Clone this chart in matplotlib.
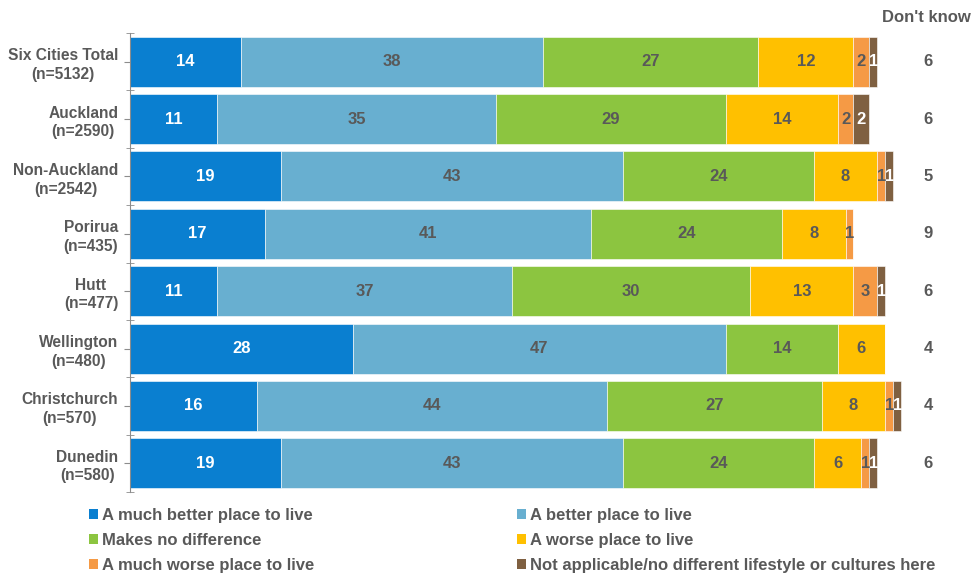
import matplotlib
matplotlib.use("Agg")
import matplotlib.pyplot as plt
import numpy as np
from matplotlib.patches import Patch

plt.rcParams['font.family'] = ['Liberation Sans', 'DejaVu Sans']

categories = ["Six Cities Total\n(n=5132)", "Auckland\n(n=2590)", "Non-Auckland\n(n=2542)",
              "Porirua\n(n=435)", "Hutt\n(n=477)", "Wellington\n(n=480)",
              "Christchurch\n(n=570)", "Dunedin\n(n=580)"]
series_names = ["A much better place to live", "A better place to live", "Makes no difference",
                "A worse place to live", "A much worse place to live",
                "Not applicable/no different lifestyle or cultures here"]
much_better = [14, 11, 19, 17, 11, 28, 16, 19]
better = [38, 35, 43, 41, 37, 47, 44, 43]
no_diff = [27, 29, 24, 24, 30, 14, 27, 24]
worse = [12, 14, 8, 8, 13, 6, 8, 6]
much_worse = [2, 2, 1, 1, 3, 0, 1, 1]
not_applicable = [1, 2, 1, 0, 1, 0, 1, 1]
dont_know = [6, 6, 5, 9, 6, 4, 4, 6]

series = [much_better, better, no_diff, worse, much_worse, not_applicable]
colors = ["#0A7FD0", "#68AFD0", "#8CC540", "#FFC000", "#F59A45", "#7F6041"]
label_colors = ["white", "#595959", "#595959", "#595959", "#595959", "white"]
gray = "#595959"

W, H = 971, 574
fig = plt.figure(figsize=(W / 100, H / 100), dpi=100)
ax_left, ax_right, ax_top, ax_bot = 130, 971, 33, 492
ax = fig.add_axes([ax_left / W, 1 - ax_bot / H, (ax_right - ax_left) / W, (ax_bot - ax_top) / H])
px_per_unit = 7.95
ax.set_xlim(0, (ax_right - ax_left) / px_per_unit)
n = len(categories)
ax.set_ylim(n - 0.5, -0.5)

y = np.arange(n)
left = np.zeros(n)
for vals, col, lc in zip(series, colors, label_colors):
    vals = np.array(vals, dtype=float)
    ax.barh(y, vals, left=left, height=0.87, color=col, edgecolor="white", linewidth=0.4)
    for yi, (l, v) in enumerate(zip(left, vals)):
        if v > 0:
            ax.text(l + v / 2, yi, f"{int(v)}", ha="center", va="center",
                    color=lc, fontsize=12, fontweight="bold")
    left += vals

dk_x = (928 - ax_left) / px_per_unit
for yi, v in enumerate(dont_know):
    ax.text(dk_x, yi, str(v), ha="center", va="center", color=gray,
            fontsize=12, fontweight="bold")
fig.text(926 / W, 1 - 17 / H, "Don't know", ha="center", va="center", color=gray,
         fontsize=12, fontweight="bold")

for s in ["top", "right", "bottom"]:
    ax.spines[s].set_visible(False)
ax.spines["left"].set_color("#8C8C8C")
ax.spines["left"].set_linewidth(0.8)
ax.set_xticks([])
ax.set_yticks(y)
ax.set_yticklabels(categories, fontsize=11.2, fontweight="bold", color=gray,
                   linespacing=1.3, multialignment="center")
ax.set_yticks(np.arange(-0.5, n, 1.0), minor=True)
ax.tick_params(axis="y", which="major", length=4, color="#8C8C8C", pad=4.5)
ax.tick_params(axis="y", which="minor", length=6, direction="inout", color="#8C8C8C")

handles = [Patch(facecolor=c, edgecolor="none") for c in colors]
order = [0, 2, 4, 1, 3, 5]
leg = fig.legend([handles[i] for i in order], [series_names[i] for i in order],
                 loc="upper left", bbox_to_anchor=(89 / W, 1 - 508 / H), ncol=2,
                 frameon=False, fontsize=12, handlelength=0.55, handleheight=0.55,
                 handletextpad=0.2, columnspacing=12.2, labelspacing=0.6,
                 borderaxespad=0, borderpad=0)
for t in leg.get_texts():
    t.set_color(gray)
    t.set_fontweight("bold")

fig.savefig("out.png", dpi=100)
